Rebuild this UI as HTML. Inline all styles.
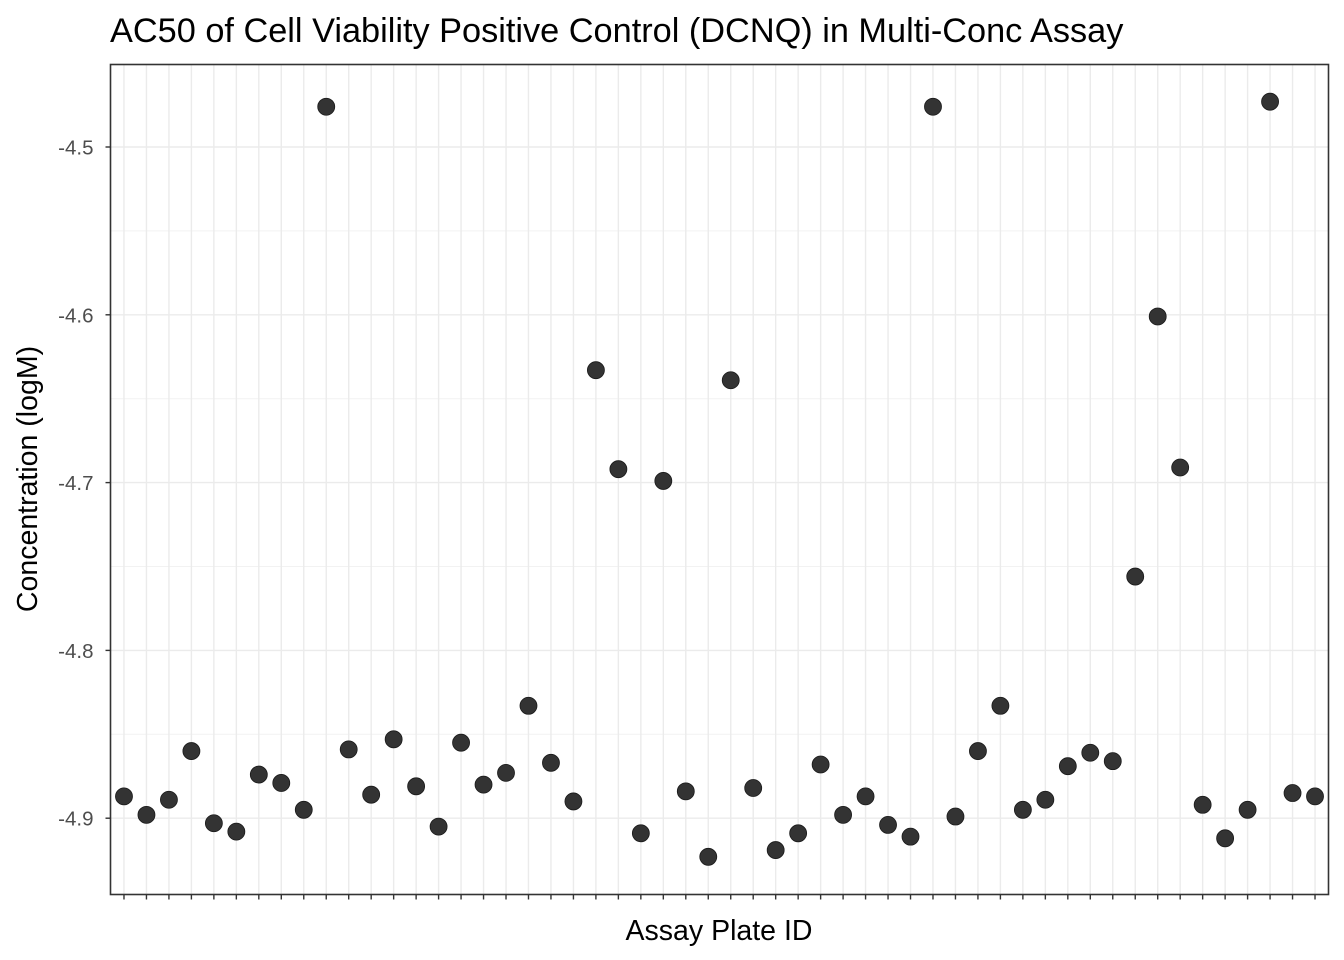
<!DOCTYPE html>
<html><head><meta charset="utf-8"><style>
html,body{margin:0;padding:0;background:#fff;}
svg{display:block;font-family:"Liberation Sans",Arial,sans-serif;}
</style></head><body>
<svg id="chart" width="1344" height="960" xmlns="http://www.w3.org/2000/svg">
<text x="110" y="42" font-size="34.3" fill="#000">AC50 of Cell Viability Positive Control (DCNQ) in Multi-Conc Assay</text>
<text x="719" y="940" font-size="28.5" text-anchor="middle" fill="#000">Assay Plate ID</text>
<text transform="translate(37,479) rotate(-90)" font-size="28.5" text-anchor="middle" fill="#000">Concentration (logM)</text>
<g id="grid"></g>
<g id="points"></g>
<g id="axes"></g>
</svg>
<script>
const values = [-4.887,-4.898,-4.889,-4.860,-4.903,-4.908,-4.874,-4.879,-4.895,-4.476,
-4.859,-4.886,-4.853,-4.881,-4.905,-4.855,-4.880,-4.873,-4.833,-4.867,
-4.890,-4.633,-4.692,-4.909,-4.699,-4.884,-4.923,-4.639,-4.882,-4.919,
-4.909,-4.868,-4.898,-4.887,-4.904,-4.911,-4.476,-4.899,-4.860,-4.833,
-4.895,-4.889,-4.869,-4.861,-4.866,-4.756,-4.601,-4.691,-4.892,-4.912,
-4.895,-4.473,-4.885,-4.887];
const yTicks = [-4.5,-4.6,-4.7,-4.8,-4.9];
const yMinor = [-4.55,-4.65,-4.75,-4.85];
const L=110.5,R=1328.5,T=64.5,B=894.5;
const n=values.length;
const step=(R-L)/(n-1+1.2);
function xs(i){return L+step*(0.6+i);}
function ys(v){return 147+(-4.5-v)*1678;}
const NS="http://www.w3.org/2000/svg";
function mk(tag,attrs,parent){const e=document.createElementNS(NS,tag);for(const k in attrs)e.setAttribute(k,attrs[k]);parent.appendChild(e);return e;}
const grid=document.getElementById('grid'),pts=document.getElementById('points'),axes=document.getElementById('axes');
mk('rect',{x:L,y:T,width:R-L,height:B-T,fill:'#fff'},grid);
yMinor.forEach(v=>{const e=mk('line',{x1:L,x2:R,y1:ys(v),y2:ys(v),stroke:'#f2f2f2','stroke-width':1},grid);

});
yTicks.forEach(v=>{const e=mk('line',{x1:L,x2:R,y1:ys(v),y2:ys(v),stroke:'#ebebeb','stroke-width':1.4},grid);

});
values.forEach((v,i)=>{const e=mk('line',{x1:xs(i),x2:xs(i),y1:T,y2:B,stroke:'#ebebeb','stroke-width':1.4},grid);

});
values.forEach((v,i)=>{const c=mk('circle',{cx:xs(i),cy:ys(v),r:8.5,fill:'#333333',stroke:'#1a1a1a','stroke-width':0.8},pts);

});
const border=mk('rect',{x:L,y:T,width:R-L,height:B-T,fill:'none',stroke:'#333333','stroke-width':1.6},axes);


yTicks.forEach(v=>{const t=mk('line',{x1:L-5,x2:L,y1:ys(v),y2:ys(v),stroke:'#333','stroke-width':1.4},axes);


const tx=mk('text',{x:L-17,y:ys(v)+7.5,'font-size':20.5,'text-anchor':'end',fill:'#4d4d4d'},axes);
tx.textContent=String(v);

});
values.forEach((v,i)=>{const t=mk('line',{x1:xs(i),x2:xs(i),y1:B,y2:B+5,stroke:'#333','stroke-width':1.4},axes);

});
</script>
</body></html>
